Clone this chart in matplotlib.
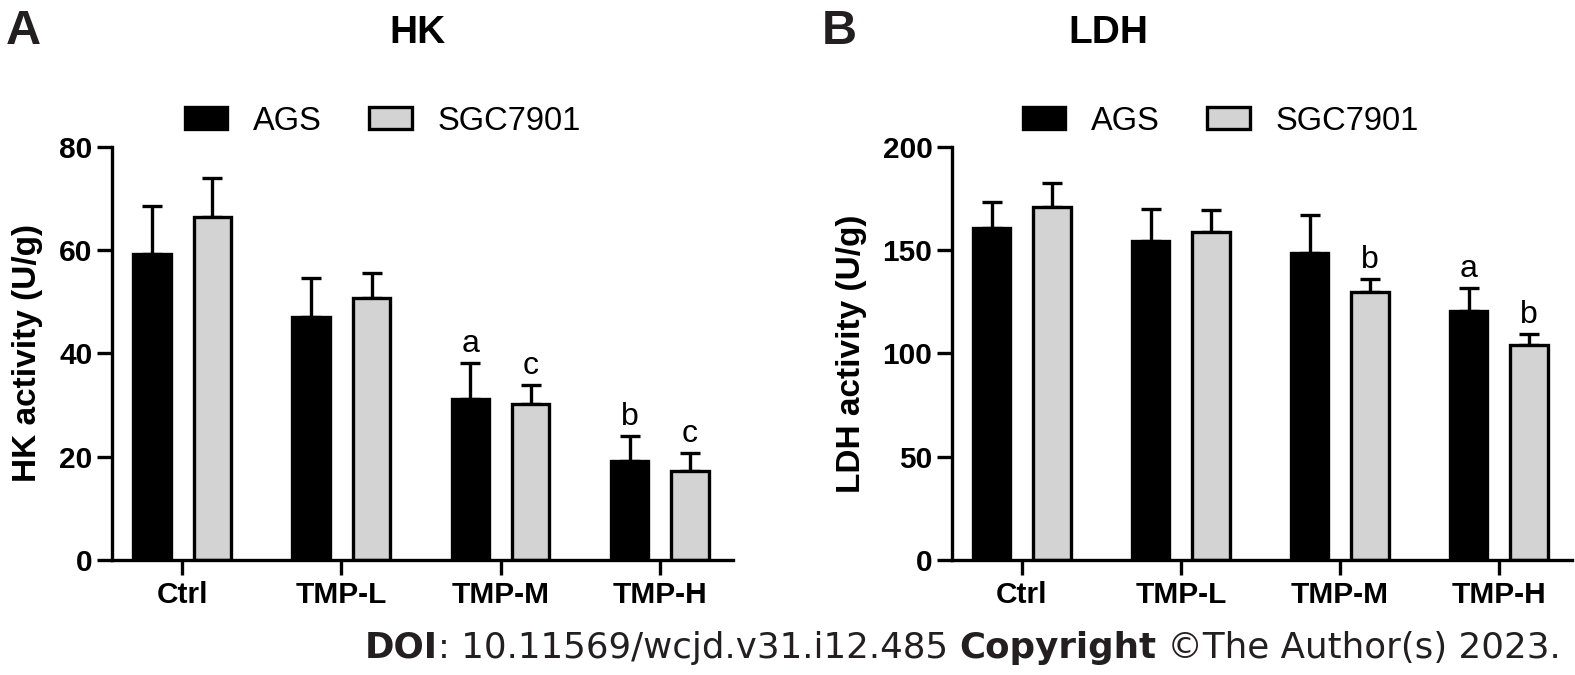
#!/usr/bin/env python3
import numpy as np
import matplotlib.pyplot as plt
from matplotlib.patches import Patch
from matplotlib.offsetbox import TextArea, HPacker, AnchoredOffsetbox

groups = ["Ctrl", "TMP-L", "TMP-M", "TMP-H"]
series = ["AGS", "SGC7901"]

hk_ags = [59.3, 47.1, 31.2, 19.2]
hk_ags_err = [9.3, 7.6, 7.0, 4.8]
hk_sgc = [66.5, 50.8, 30.2, 17.2]
hk_sgc_err = [7.5, 4.8, 3.7, 3.5]
hk_ags_sig = ["", "", "a", "b"]
hk_sgc_sig = ["", "", "c", "c"]

ldh_ags = [160.8, 154.5, 148.7, 120.6]
ldh_ags_err = [12.6, 15.5, 18.3, 11.1]
ldh_sgc = [171.0, 159.0, 129.8, 104.0]
ldh_sgc_err = [11.5, 10.5, 6.2, 5.4]
ldh_ags_sig = ["", "", "", "a"]
ldh_sgc_sig = ["", "", "b", "b"]

BOLD = "Liberation Sans"
LW = 2.4


def draw_panel(ax, ags, ags_err, sgc, sgc_err, ags_sig, sgc_sig, ymax, step, ylabel, lab_x):
    x = np.arange(len(groups))
    off = 0.19
    w = 0.235
    ax.bar(x - off, ags, w, color="black", edgecolor="black", linewidth=LW, zorder=2)
    ax.bar(x + off, sgc, w, color="#d3d3d3", edgecolor="black", linewidth=LW, zorder=2)
    for xs, vals, errs in [(x - off, ags, ags_err), (x + off, sgc, sgc_err)]:
        ax.errorbar(xs, vals, yerr=[np.zeros(len(vals)), errs], fmt="none",
                    ecolor="black", elinewidth=LW, capsize=7, capthick=LW, zorder=1)
    for xs, vals, errs, sig in [(x - off, ags, ags_err, ags_sig), (x + off, sgc, sgc_err, sgc_sig)]:
        for xi, v, e, s in zip(xs, vals, errs, sig):
            if s:
                ax.annotate(s, (xi, v + e), xytext=(0, 3), textcoords="offset points",
                            ha="center", va="bottom", fontsize=23, family="Liberation Sans")
    ax.set_xlim(-0.44, 3.46)
    ax.set_ylim(0, ymax)
    ax.set_yticks(np.arange(0, ymax + 1, step))
    ax.set_xticks(x)
    ax.set_xticklabels(groups)
    for s in ["top", "right"]:
        ax.spines[s].set_visible(False)
    for s in ["left", "bottom"]:
        ax.spines[s].set_linewidth(LW)
        ax.spines[s].set_capstyle("projecting")
    ax.tick_params(axis="y", length=11, width=LW, labelsize=21.5, pad=3)
    ax.tick_params(axis="x", length=11, width=LW, labelsize=21.5, pad=4)
    for lab in ax.get_xticklabels() + ax.get_yticklabels():
        lab.set_fontweight("bold")
        lab.set_family(BOLD)
    ax.set_ylabel(ylabel, fontsize=24, fontweight="bold", family=BOLD)
    ax.yaxis.set_label_coords(lab_x, 0.5)


def main():
    fig = plt.figure(figsize=(15.75, 6.75), dpi=100)
    ax1 = fig.add_axes([0.0711, 0.1704, 0.3943, 0.6119])
    ax2 = fig.add_axes([0.6044, 0.1704, 0.3937, 0.6119])

    draw_panel(ax1, hk_ags, hk_ags_err, hk_sgc, hk_sgc_err, hk_ags_sig, hk_sgc_sig,
               80, 20, "HK activity (U/g)", -0.111)
    draw_panel(ax2, ldh_ags, ldh_ags_err, ldh_sgc, ldh_sgc_err, ldh_ags_sig, ldh_sgc_sig,
               200, 50, "LDH activity (U/g)", -0.137)

    fig.text(418 / 1575, 1 - 33 / 675, "HK", fontsize=28, fontweight="bold", family=BOLD,
             ha="center", va="center")
    fig.text(1108 / 1575, 1 - 33 / 675, "LDH", fontsize=28, fontweight="bold", family=BOLD,
             ha="center", va="center")
    fig.text(6 / 1575, 1 - 31 / 675, "A", fontsize=35, fontweight="heavy", family=BOLD,
             color="#231f20", ha="left", va="center")
    fig.text(822 / 1575, 1 - 31 / 675, "B", fontsize=35, fontweight="heavy", family=BOLD,
             color="#231f20", ha="left", va="center")

    handles = [Patch(facecolor="black", edgecolor="black", linewidth=LW),
               Patch(facecolor="#d3d3d3", edgecolor="black", linewidth=LW)]
    for cx in [383 / 1575, 1221 / 1575]:
        fig.legend(handles, series, loc="center", bbox_to_anchor=(cx, 1 - 121 / 675),
                   ncol=2, frameon=False, prop={"family": "Liberation Sans", "size": 23.5},
                   handlelength=1.3, handleheight=0.65, handletextpad=0.8, columnspacing=1.45)

    col = "#231f20"
    parts = [("DOI", "bold"), (": 10.11569/wcjd.v31.i12.485 ", "normal"),
             ("Copyright", "bold"), (" \u00a9The Author(s) 2023.", "normal")]
    boxes = [TextArea(t, textprops=dict(fontsize=25.7, fontweight=wt, color=col,
                                        family="DejaVu Sans")) for t, wt in parts]
    pack = HPacker(children=boxes, align="baseline", pad=0, sep=0)
    anc = AnchoredOffsetbox(loc="lower right", child=pack, frameon=False, pad=0,
                            bbox_to_anchor=(1 - 14 / 1575, 10 / 675),
                            bbox_transform=fig.transFigure, borderpad=0)
    fig.add_artist(anc)

    fig.savefig("out.png", dpi=100)


if __name__ == "__main__":
    main()
